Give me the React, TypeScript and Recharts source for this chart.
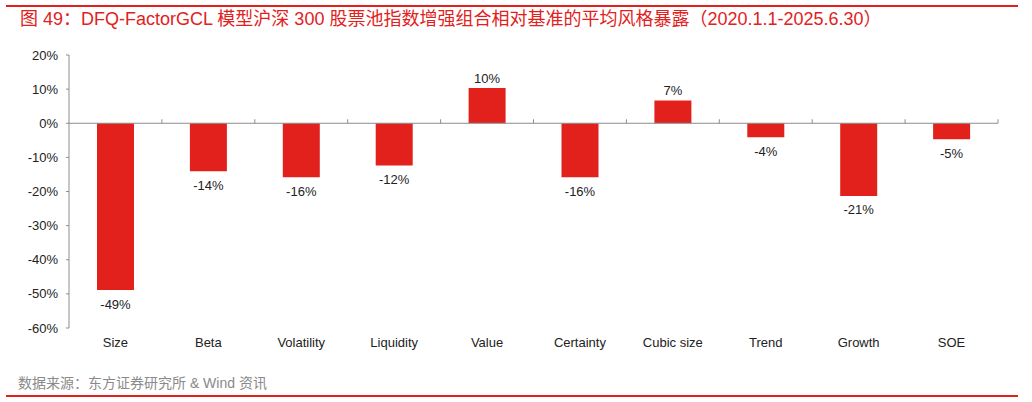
import React from 'react';
import { BarChart, Bar, XAxis, YAxis, ReferenceLine, LabelList } from 'recharts';

const categories = ['Size', 'Beta', 'Volatility', 'Liquidity', 'Value', 'Certainty', 'Cubic size', 'Trend', 'Growth', 'SOE'];
const exposure = [-48.9, -14.1, -15.8, -12.4, 10.3, -15.8, 6.7, -4.1, -21.3, -4.7];
const yTicks = [-60, -50, -40, -30, -20, -10, 0, 10, 20];

const data = categories.map((name, i) => ({ name, value: exposure[i] }));

const RED = '#e2211c';
const FONT = '"Liberation Sans", Arial, "Noto Sans CJK SC", sans-serif';

const ZeroAxis = (props: any) => {
  const { x1, y1, x2 } = props;
  const n = categories.length;
  const step = (x2 - x1) / n;
  const ticks = [];
  for (let i = 1; i <= n; i++) {
    const x = x1 + step * i;
    ticks.push(<line key={i} x1={x} x2={x} y1={y1 - 4} y2={y1} stroke="#8c8c8c" strokeWidth={1} />);
  }
  return (
    <g>
      <line x1={x1} x2={x2} y1={y1} y2={y1} stroke="#8c8c8c" strokeWidth={1} />
      {ticks}
    </g>
  );
};

const ValueLabel = (props: any) => {
  const { x, y, width, height, value } = props;
  const top = Math.min(y, y + height);
  const bottom = Math.max(y, y + height);
  const cx = x + width / 2;
  const ty = value >= 0 ? top - 9 : bottom + 15;
  return (
    <text x={cx} y={ty} textAnchor="middle" dominantBaseline="middle" fontSize={13} fill="#222" fontFamily={FONT}>
      {Math.round(value) + '%'}
    </text>
  );
};

const App = () => {
  return (
    <div style={{ position: 'absolute', left: 0, top: 0, width: 1032, height: 402, background: '#fff', fontFamily: FONT }}>
      <div style={{ position: 'absolute', left: 6, top: 5, width: 1012, height: 1.5, background: RED }} />
      <div style={{ position: 'absolute', left: 20, top: 8, fontSize: 18, color: RED, whiteSpace: 'nowrap', lineHeight: '22px' }}>
        图 49：DFQ-FactorGCL 模型沪深 300 股票池指数增强组合相对基准的平均风格暴露（2020.1.1-2025.6.30）
      </div>
      <div style={{ position: 'absolute', left: 0, top: 0 }}>
        <BarChart
          width={1032}
          height={402}
          data={data}
          margin={{ top: 55, right: 34, left: 0, bottom: 44 }}
          barSize={37}
        >
          <XAxis
            dataKey="name"
            axisLine={false}
            tickLine={false}
            tickMargin={4}
            height={30}
            tick={{ fontSize: 13, fill: '#222', fontFamily: FONT }}
            interval={0}
          />
          <YAxis
            domain={[-60, 20]}
            ticks={yTicks}
            width={69}
            tickSize={3}
            tickMargin={8}
            axisLine={{ stroke: '#8c8c8c' }}
            tickLine={{ stroke: '#8c8c8c' }}
            tickFormatter={(v: number) => `${v}%`}
            tick={{ fontSize: 13, fill: '#222', fontFamily: FONT }}
            interval={0}
          />
          <Bar dataKey="value" fill={RED} isAnimationActive={false}>
            <LabelList dataKey="value" content={ValueLabel} />
          </Bar>
          <ReferenceLine y={0} shape={ZeroAxis} />
        </BarChart>
      </div>
      <div style={{ position: 'absolute', left: 18, top: 374, fontSize: 14, color: '#8a8a8a', whiteSpace: 'nowrap', lineHeight: '18px' }}>
        数据来源：东方证券研究所 &amp; Wind 资讯
      </div>
      <div style={{ position: 'absolute', left: 6, top: 395, width: 1012, height: 1.5, background: RED }} />
    </div>
  );
};

export default App;
